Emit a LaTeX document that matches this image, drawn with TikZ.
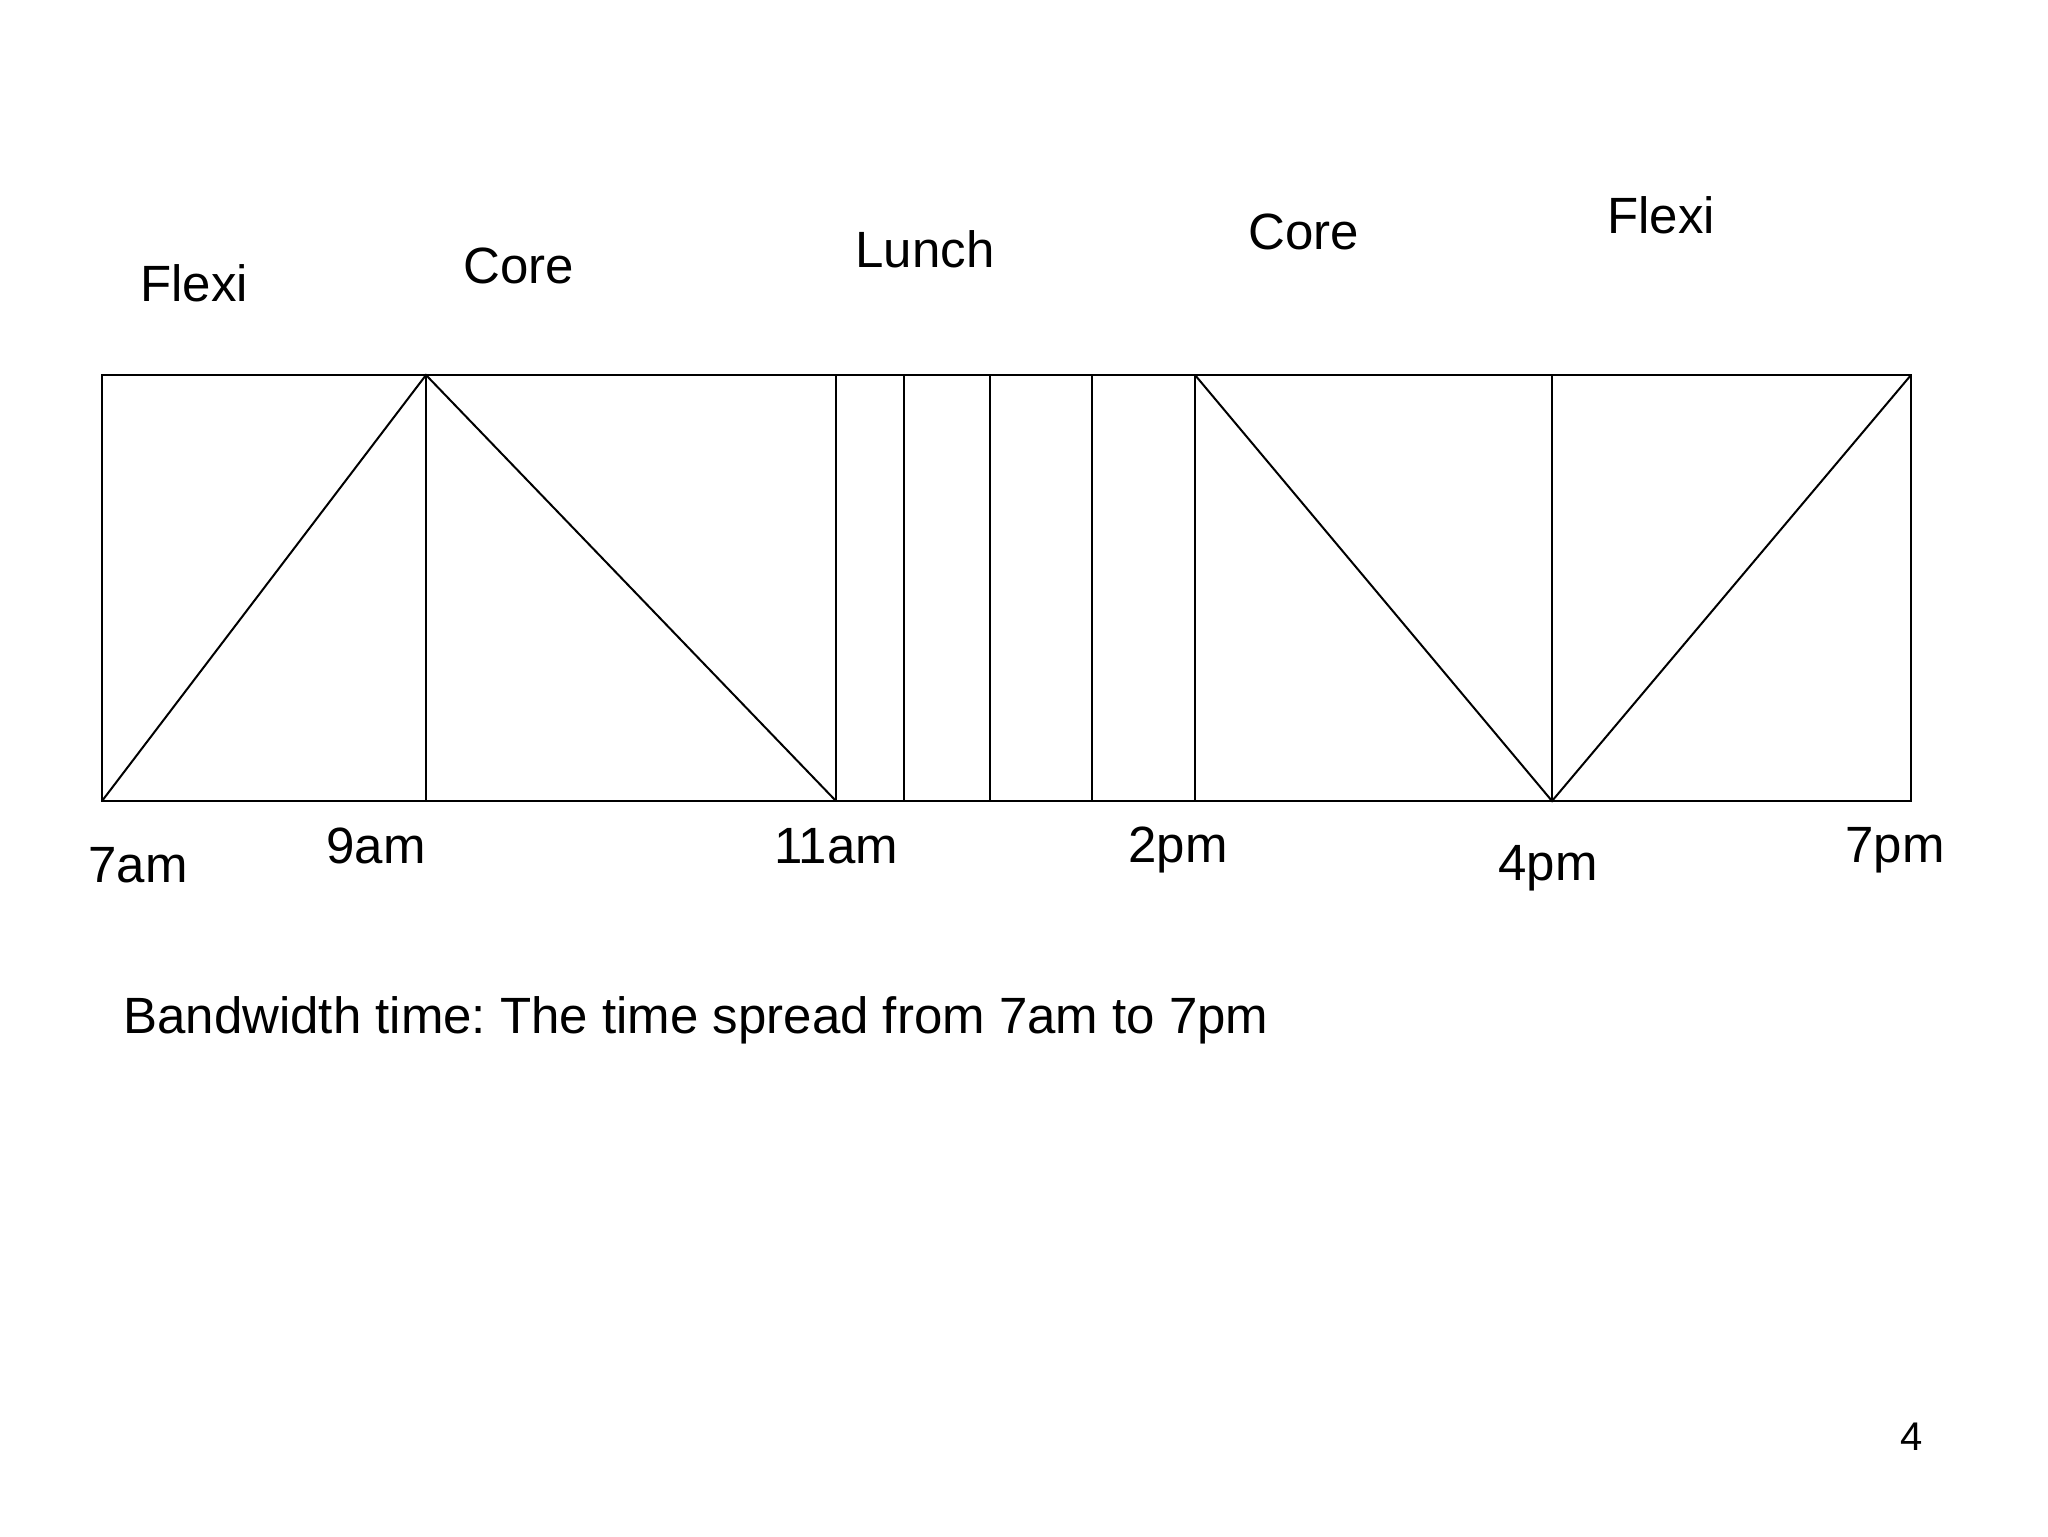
\documentclass[tikz,border=0pt]{standalone}
\usepackage{fontspec}
\setmainfont{Liberation Sans}
\frenchspacing
\begin{document}
\begin{tikzpicture}[x=0.5pt,y=-0.5pt,
  lbl/.style={font=\fontsize{25.5}{29}\selectfont, inner sep=0pt},
  ln/.style={line width=1pt, black}]
\useasboundingbox[fill=white] (0,0) rectangle (2048,1536);
% corners and dividers
\coordinate (tl) at (102,375);
\coordinate (tr) at (1911,375);
\coordinate (bl) at (102,801);
\coordinate (br) at (1911,801);
\foreach \n/\x in {a/426,b/836,c/904,d/990,e/1092,f/1195,g/1552}{
  \coordinate (\n t) at (\x,375);
  \coordinate (\n b) at (\x,801);
}
\draw[ln] (tl) rectangle (br);
\foreach \n in {a,b,c,d,e,f,g}{ \draw[ln] (\n t) -- (\n b); }
\draw[ln] (bl) -- (at) -- (bb);
\draw[ln] (ft) -- (gb) -- (tr);
% top labels
\node[lbl] (flexi1) at (194,283) {Flexi};
\node[lbl] (core1) at (519,266) {Core};
\node[lbl] (lunch) at (925,249) {Lunch};
\node[lbl] (core2) at (1304,232) {Core};
\node[lbl] (flexi2) at (1661,215) {Flexi};
% bottom labels
\node[lbl] (t7am) at (138,865) {7am};
\node[lbl] (t9am) at (376,846) {9am};
\node[lbl] (t11am) at (836,846) {11am};
\node[lbl] (t2pm) at (1178,850) {2pm};
\node[lbl] (t4pm) at (1548,868) {4pm};
\node[lbl] (t7pm) at (1895,850) {7pm};
% caption
\node[lbl, anchor=west] (caption) at (123,1020) {Bandwidth time: The time spread from 7am to 7pm};
\node[font=\fontsize{20}{24}\selectfont, inner sep=0pt] (page) at (1912,1437) {4};
\end{tikzpicture}
\end{document}
